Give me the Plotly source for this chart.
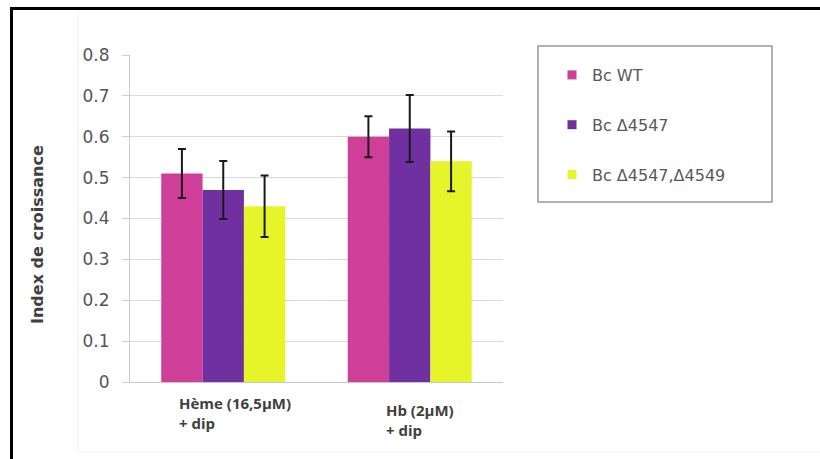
import plotly.graph_objects as go

categories = ["Hème (16,5µM)<br>+ dip", "Hb (2µM)<br>+ dip"]
series_names = ["Bc WT", "Bc Δ4547", "Bc Δ4547,Δ4549"]
wt_values = [0.51, 0.60]
wt_errors = [0.06, 0.05]
d4547_values = [0.47, 0.62]
d4547_errors = [0.071, 0.082]
d4547_4549_values = [0.43, 0.54]
d4547_4549_errors = [0.075, 0.073]
y_ticks = [0, 0.1, 0.2, 0.3, 0.4, 0.5, 0.6, 0.7, 0.8]
y_title = "Index de croissance"

colors = ["#CF3E98", "#7030A0", "#E6F42A"]
values = [wt_values, d4547_values, d4547_4549_values]
errors = [wt_errors, d4547_errors, d4547_4549_errors]

W, H = 820, 459
L, R, T, B = 130, 820 - 503, 55, 459 - 382
pw, ph = W - L - R, H - T - B

def px(x):  # window x -> paper
    return (x - L) / pw

def py(y):  # window y -> paper
    return (H - B - y) / ph

fig = go.Figure()
xs = list(range(len(categories)))
for name, vals, errs, col in zip(series_names, values, errors, colors):
    fig.add_trace(go.Bar(
        x=xs, y=vals, name=name, marker=dict(color=col, line=dict(width=0)),
        error_y=dict(type="data", array=errs, visible=True, color="#1a1a1a",
                     thickness=2, width=4),
        showlegend=False,
    ))
for name, col in zip(series_names, colors):
    fig.add_trace(go.Scatter(
        x=[None], y=[None], mode="markers", name=name, legendgroup=name,
        marker=dict(symbol="square", size=9, color=col),
    ))

fig.update_layout(
    width=W, height=H,
    margin=dict(l=L, r=R, t=T, b=B, pad=0),
    paper_bgcolor="white", plot_bgcolor="white",
    barmode="group", bargap=0.335, bargroupgap=0,
    showlegend=True,
    legend=dict(x=px(552), y=py(58), xanchor="left", yanchor="top",
                font=dict(family="DejaVu Sans", size=16, color="#595959"),
                bgcolor="rgba(0,0,0,0)", borderwidth=0,
                tracegroupgap=26, traceorder="grouped"),
    xaxis=dict(range=[-0.5, 1.5], showticklabels=False, ticks="",
               showgrid=False, showline=True, linecolor="#c8c8c8", linewidth=1,
               zeroline=False, fixedrange=True),
    yaxis=dict(range=[0, 0.8001], tickvals=y_ticks,
               ticktext=[("%g" % v) for v in y_ticks],
               showgrid=True, gridcolor="#d9d9d9", gridwidth=1,
               showline=True, linecolor="#c8c8c8", linewidth=1,
               ticks="outside", ticklen=7, tickcolor="#d0d0d0",
               ticklabelstandoff=9,
               tickfont=dict(family="DejaVu Sans", size=17, color="#555555"),
               zeroline=False),
)

annotations = [
    dict(text="<b>" + y_title + "</b>", xref="paper", yref="paper",
         x=px(37), y=py(235), textangle=-90, showarrow=False,
         xanchor="center", yanchor="middle",
         font=dict(family="DejaVu Sans", size=16, color="#404040")),
]
label_shift = [(-46, 391), (-26, 398)]
for i, cat in enumerate(categories):
    dx, ytop = label_shift[i]
    annotations.append(dict(
        text="<b>" + cat + "</b>", xref="x", yref="paper", x=i, y=py(ytop),
        xshift=dx, xanchor="left", yanchor="top", align="left", showarrow=False,
        font=dict(family="Open Sans", size=15, color="#404040")))
fig.update_layout(annotations=annotations)

shapes = [
    # faint chart-area frame
    dict(type="line", xref="paper", yref="paper", x0=px(78), x1=px(840),
         y0=py(452), y1=py(452), line=dict(color="#efefef", width=1)),
    dict(type="line", xref="paper", yref="paper", x0=px(78), x1=px(78),
         y0=py(10), y1=py(452), line=dict(color="#efefef", width=1)),
    # legend box
    dict(type="rect", xref="paper", yref="paper", x0=px(538), x1=px(772),
         y0=py(202), y1=py(46), line=dict(color="#9a9a9a", width=1.5)),
    # black outer frame (top and left)
    dict(type="line", xref="paper", yref="paper", x0=px(10), x1=px(840),
         y0=py(8.5), y1=py(8.5), line=dict(color="black", width=3)),
    dict(type="line", xref="paper", yref="paper", x0=px(11.5), x1=px(11.5),
         y0=py(7), y1=py(470), line=dict(color="black", width=3)),
]
fig.update_layout(shapes=shapes)

fig.write_html(
    "out.html",
    config={"displayModeBar": False},
    post_script="document.body.style.margin='0px';document.body.style.overflow='hidden';",
)
